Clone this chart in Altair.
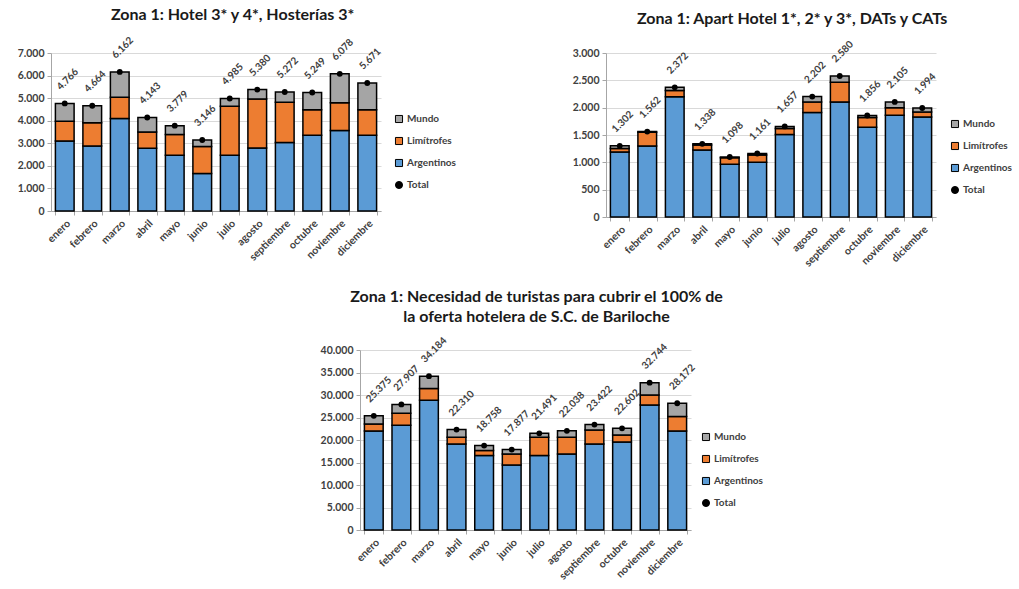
import altair as alt
import pandas as pd

# Months on the x axis
meses = ["enero", "febrero", "marzo", "abril", "mayo", "junio", "julio",
         "agosto", "septiembre", "octubre", "noviembre", "diciembre"]

# Zona 1: Hotel 3* y 4*, Hosterías 3*
hot_arg = [3100, 2880, 4100, 2780, 2470, 1660, 2470, 2790, 3030, 3360, 3570, 3360]
hot_lim = [880, 1030, 940, 720, 920, 1200, 2170, 2170, 1790, 1130, 1230, 1130]
hot_mun = [786, 754, 1122, 643, 389, 286, 345, 420, 452, 759, 1278, 1181]
hot_tot = [4766, 4664, 6162, 4143, 3779, 3146, 4985, 5380, 5272, 5249, 6078, 5671]

# Zona 1: Apart Hotel 1*, 2* y 3*, DATs y CATs
apa_arg = [1190, 1300, 2200, 1225, 965, 1000, 1510, 1910, 2105, 1640, 1860, 1830]
apa_lim = [65, 250, 115, 90, 120, 133, 108, 192, 361, 178, 140, 90]
apa_mun = [47, 12, 57, 23, 13, 28, 39, 100, 114, 38, 105, 74]
apa_tot = [1302, 1562, 2372, 1338, 1098, 1161, 1657, 2202, 2580, 1856, 2105, 1994]

# Zona 1: necesidad de turistas para cubrir el 100% de la oferta
nec_arg = [22000, 23270, 28820, 19110, 16530, 14440, 16530, 16890, 19110, 19560, 27780, 22000]
nec_lim = [1550, 2660, 2600, 1490, 1110, 2450, 4070, 3710, 3110, 1550, 2220, 3200]
nec_mun = [1825, 1977, 2764, 1710, 1118, 987, 891, 1438, 1202, 1492, 2744, 2972]
nec_tot = [25375, 27907, 34184, 22310, 18758, 17877, 21491, 22038, 23422, 22602, 32744, 28172]

series = ["Mundo", "Limítrofes", "Argentinos", "Total"]
colores = ["#A5A5A5", "#ED7D31", "#5B9BD5", "#000000"]
formas = ["square", "square", "square", "circle"]

FONT = "Lato"
TXT = "#404040"


def miles(v):
    return f"{v:,}".replace(",", ".")


def panel(titulo, arg, lim, mun, tot, ymax, ystep, w, h, leg_x, leg_y,
          title_dx, title_offset):
    filas = []
    for i, m in enumerate(meses):
        filas.append({"mes": m, "serie": "Argentinos", "valor": arg[i], "orden": 1})
        filas.append({"mes": m, "serie": "Limítrofes", "valor": lim[i], "orden": 2})
        filas.append({"mes": m, "serie": "Mundo", "valor": mun[i], "orden": 3})
    barras_df = pd.DataFrame(filas)
    tot_df = pd.DataFrame({"mes": meses, "valor": tot, "serie": "Total",
                           "etiqueta": [miles(v) for v in tot]})

    x = alt.X("mes:N", sort=meses, title=None,
              scale=alt.Scale(paddingInner=0.32, paddingOuter=0.16),
              axis=alt.Axis(labelAngle=315, tickBand="extent", labelFontSize=10.5,
                            labelFont=FONT, labelColor=TXT, labelFontWeight="bold",
                            domainColor="#A6A6A6", tickColor="#A6A6A6", tickSize=4,
                            labelPadding=3, grid=False))
    yscale = alt.Scale(domain=[0, ymax], nice=False)
    yaxis = alt.Axis(values=list(range(0, ymax + 1, ystep)), labelOverlap=False,
                     labelExpr="replace(format(datum.value, ','), ',', '.')",
                     labelFontSize=10.5, labelFont=FONT, labelColor=TXT,
                     labelFontWeight="bold", domainColor="#A6A6A6",
                     tickColor="#A6A6A6", tickSize=4, gridColor="#D9D9D9",
                     labelPadding=3)
    y = alt.Y("valor:Q", stack="zero", scale=yscale, axis=yaxis, title=None)
    legend = alt.Legend(title=None, orient="none", legendX=leg_x, legendY=leg_y,
                        labelFont=FONT, labelFontSize=10, labelColor=TXT,
                        labelFontWeight="bold", symbolSize=50,
                        symbolStrokeColor="#000000", symbolStrokeWidth=1,
                        rowPadding=10, labelOffset=3)
    color = alt.Color("serie:N", scale=alt.Scale(domain=series, range=colores),
                      legend=legend)

    barras = alt.Chart(barras_df).mark_bar(stroke="#000000", strokeWidth=1.5).encode(
        x=x, y=y, color=color,
        order=alt.Order("orden:Q", sort="ascending"),
    )
    puntos = alt.Chart(tot_df).mark_point(filled=True, size=34, opacity=1).encode(
        x=x, y=y, color=color,
        shape=alt.Shape("serie:N", scale=alt.Scale(domain=series, range=formas),
                        legend=legend),
    )
    etiquetas = alt.Chart(tot_df).mark_text(
        angle=315, align="left", baseline="middle", xOffset=-6, yOffset=-15,
        font=FONT, fontSize=10, fontWeight="bold", color=TXT,
    ).encode(x=x, y=y, text="etiqueta:N", angle=alt.value(315))

    return alt.layer(barras, puntos, etiquetas).properties(
        width=w, height=h,
        title=alt.TitleParams(titulo, font=FONT, fontSize=16, fontWeight="bold",
                              color="#1a1a1a", anchor="middle", frame="bounds",
                              offset=title_offset, lineHeight=20, dx=title_dx),
    )


c1 = panel("Zona 1: Hotel 3* y 4*, Hosterías 3*", hot_arg, hot_lim, hot_mun, hot_tot,
           7000, 1000, 330, 158, 343, 61, -4, 12)
c2 = panel("Zona 1: Apart  Hotel 1*, 2* y 3*, DATs  y CATs", apa_arg, apa_lim, apa_mun,
           apa_tot, 3000, 500, 330, 164, 344, 66, 0, 12)
c3 = panel(["Zona 1: Necesidad de turistas para cubrir el 100% de",
            "la oferta hotelera de S.C. de Bariloche"], nec_arg, nec_lim, nec_mun,
           nec_tot, 40000, 5000, 331, 180, 341, 82, -5, 10)

# empty block that shifts the lower panel to the middle of the page
hueco = alt.Chart(pd.DataFrame({"v": [0]})).mark_point(opacity=0).encode(
    x=alt.X("v:Q", axis=None), y=alt.Y("v:Q", axis=None)
).properties(width=269, height=10)

fila1 = alt.hconcat(c1, c2, spacing=116).resolve_scale(color="independent", shape="independent")
fila2 = alt.hconcat(hueco, c3, spacing=0).resolve_scale(color="independent", shape="independent")

chart = alt.vconcat(fila1, fila2, spacing=20).resolve_scale(
    color="independent", shape="independent"
).configure_view(stroke=None).properties(
    padding={"left": 17, "top": 7, "right": 0, "bottom": 0},
    background="#ffffff",
)

chart.save("out.html", embed_options={"renderer": "svg", "actions": False})
